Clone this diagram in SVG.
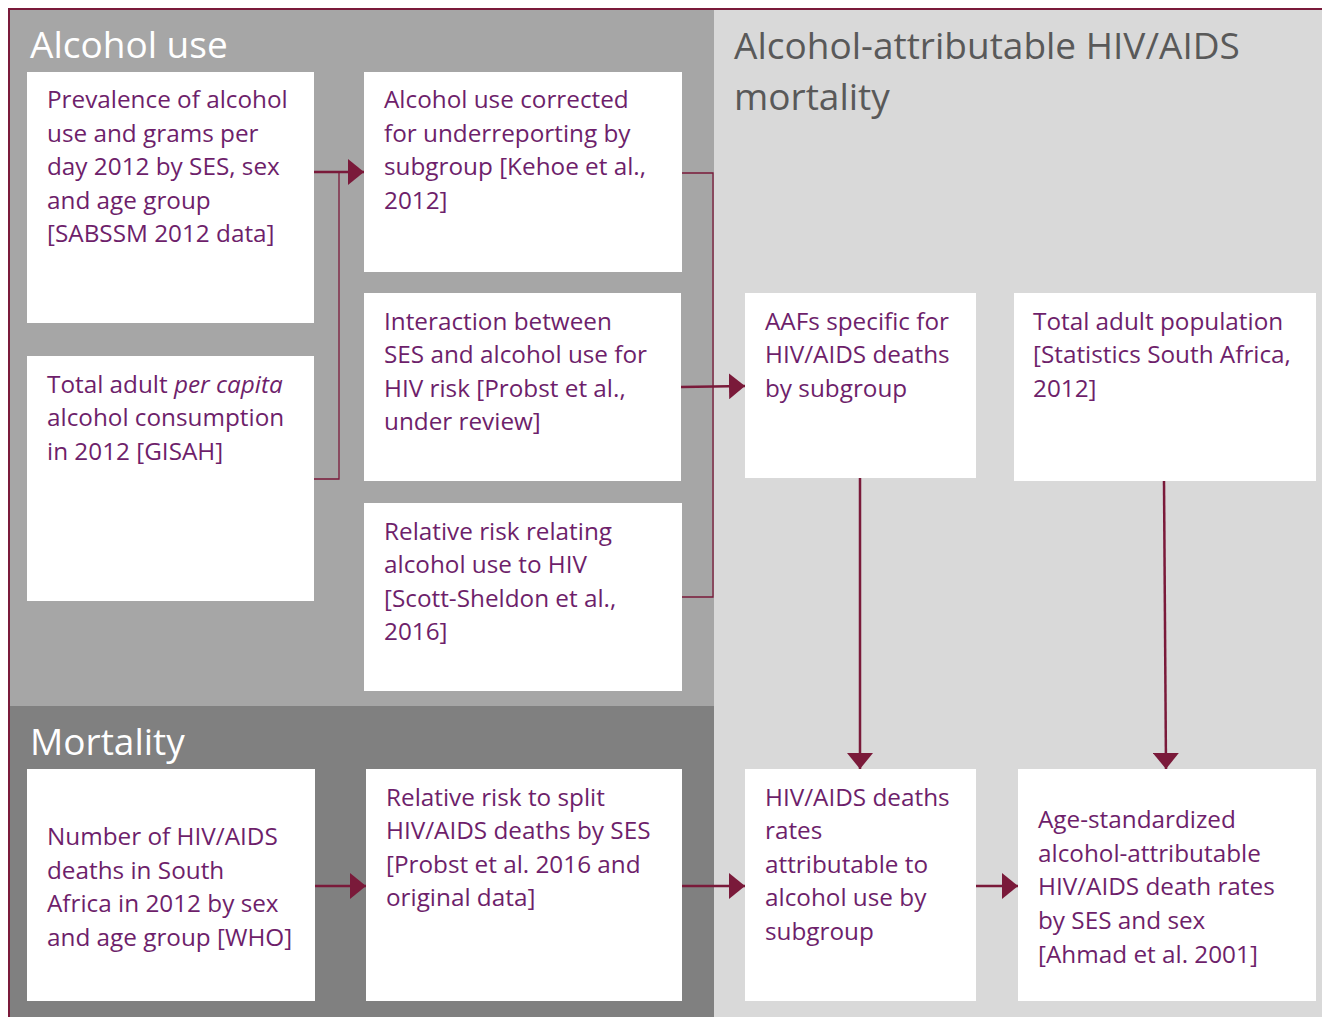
<svg xmlns="http://www.w3.org/2000/svg" width="1322" height="1017" viewBox="0 0 1322 1017">
<style>
.box{fill:#ffffff}
.t{font-family:"Open Sans","Noto Sans",sans-serif;font-size:24.3px;fill:#6e1f6b}
.title{font-family:"Open Sans","Noto Sans",sans-serif;font-size:37px}
.thin{stroke:#7a1a3a;stroke-width:1.3;fill:none}
.arr{stroke:#7a1a3a;stroke-width:2.5;fill:none}
</style>
<defs>
<marker id="ah" viewBox="0 0 16 26" refX="16" refY="13" markerWidth="16" markerHeight="26" markerUnits="userSpaceOnUse" orient="auto">
<path d="M0,0 L16,13 L0,26 Z" fill="#7a1a3a"/>
</marker>
</defs>
<rect x="0" y="0" width="1322" height="1017" fill="#ffffff"/>
<rect x="10" y="10" width="704" height="696" fill="#a6a6a6"/>
<rect x="10" y="706" width="704" height="311" fill="#808080"/>
<rect x="714" y="10" width="608" height="1007" fill="#d9d9d9"/>
<path d="M9,1017 L9,9 L1322,9" stroke="#7a1a3a" stroke-width="2" fill="none"/>
<text class="title" x="30" y="58" fill="#ffffff">Alcohol use</text>
<text class="title" x="30" y="755" fill="#ffffff">Mortality</text>
<text class="title" x="734" y="59" fill="#595959">Alcohol-attributable HIV/AIDS</text>
<text class="title" x="734" y="110" fill="#595959">mortality</text>

<g id="connectors">
<path class="arr" d="M314,172 L364,172" marker-end="url(#ah)"/>
<path class="thin" d="M339,172 L339,479 L314,479"/>
<path class="thin" d="M682,173 L713,173 L713,597 L682,597"/>
<path class="arr" d="M681,387 L745,386" marker-end="url(#ah)"/>
<path class="arr" d="M860,478 L860,769" marker-end="url(#ah)"/>
<path class="arr" d="M1164,481 L1166,769" marker-end="url(#ah)"/>
<path class="arr" d="M315,886 L366,886" marker-end="url(#ah)"/>
<path class="arr" d="M682,886 L745,886" marker-end="url(#ah)"/>
<path class="arr" d="M976,886 L1018,886" marker-end="url(#ah)"/>
</g>

<g id="n1"><rect class="box" x="27" y="72" width="287" height="251"/>
<text class="t" x="47" y="108">Prevalence of alcohol</text>
<text class="t" x="47" y="142">use and grams per</text>
<text class="t" x="47" y="175">day 2012 by SES, sex</text>
<text class="t" x="47" y="209">and age group</text>
<text class="t" x="47" y="242">[SABSSM 2012 data]</text></g>

<g id="n2"><rect class="box" x="27" y="356" width="287" height="245"/>
<text class="t" x="47" y="393">Total adult <tspan font-style="italic">per capita</tspan></text>
<text class="t" x="47" y="426">alcohol consumption</text>
<text class="t" x="47" y="460">in 2012 [GISAH]</text></g>

<g id="n3"><rect class="box" x="364" y="72" width="318" height="200"/>
<text class="t" x="384" y="108">Alcohol use corrected</text>
<text class="t" x="384" y="142">for underreporting by</text>
<text class="t" x="384" y="175">subgroup [Kehoe et al.,</text>
<text class="t" x="384" y="209">2012]</text></g>

<g id="n4"><rect class="box" x="364" y="293" width="317" height="188"/>
<text class="t" x="384" y="330">Interaction between</text>
<text class="t" x="384" y="363">SES and alcohol use for</text>
<text class="t" x="384" y="397">HIV risk [Probst et al.,</text>
<text class="t" x="384" y="430">under review]</text></g>

<g id="n5"><rect class="box" x="364" y="503" width="318" height="188"/>
<text class="t" x="384" y="540">Relative risk relating</text>
<text class="t" x="384" y="573">alcohol use to HIV</text>
<text class="t" x="384" y="607">[Scott-Sheldon et al.,</text>
<text class="t" x="384" y="640">2016]</text></g>

<g id="n6"><rect class="box" x="745" y="293" width="231" height="185"/>
<text class="t" x="765" y="330">AAFs specific for</text>
<text class="t" x="765" y="363">HIV/AIDS deaths</text>
<text class="t" x="765" y="397">by subgroup</text></g>

<g id="n7"><rect class="box" x="1014" y="293" width="302" height="188"/>
<text class="t" x="1033" y="330">Total adult population</text>
<text class="t" x="1033" y="363">[Statistics South Africa,</text>
<text class="t" x="1033" y="397">2012]</text></g>

<g id="n8"><rect class="box" x="27" y="769" width="288" height="232"/>
<text class="t" x="47" y="845">Number of HIV/AIDS</text>
<text class="t" x="47" y="879">deaths in South</text>
<text class="t" x="47" y="912">Africa in 2012 by sex</text>
<text class="t" x="47" y="946">and age group [WHO]</text></g>

<g id="n9"><rect class="box" x="366" y="769" width="316" height="232"/>
<text class="t" x="386" y="806">Relative risk to split</text>
<text class="t" x="386" y="839">HIV/AIDS deaths by SES</text>
<text class="t" x="386" y="873">[Probst et al. 2016 and</text>
<text class="t" x="386" y="906">original data]</text></g>

<g id="n10"><rect class="box" x="745" y="769" width="231" height="232"/>
<text class="t" x="765" y="806">HIV/AIDS deaths</text>
<text class="t" x="765" y="839">rates</text>
<text class="t" x="765" y="873">attributable to</text>
<text class="t" x="765" y="906">alcohol use by</text>
<text class="t" x="765" y="940">subgroup</text></g>

<g id="n11"><rect class="box" x="1018" y="769" width="298" height="232"/>
<text class="t" x="1038" y="828">Age-standardized</text>
<text class="t" x="1038" y="862">alcohol-attributable</text>
<text class="t" x="1038" y="895">HIV/AIDS death rates</text>
<text class="t" x="1038" y="929">by SES and sex</text>
<text class="t" x="1038" y="963">[Ahmad et al. 2001]</text></g>
</svg>
